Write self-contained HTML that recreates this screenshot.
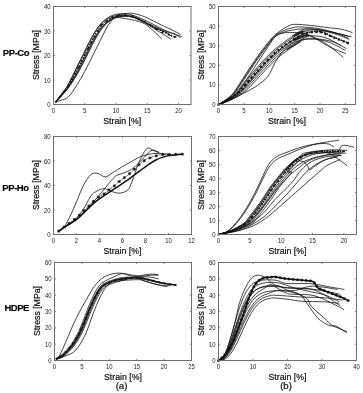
<!DOCTYPE html>
<html><head><meta charset="utf-8"><style>
html,body{margin:0;padding:0;background:#fff;}
body{width:363px;height:393px;overflow:hidden;}
svg{display:block;filter:blur(0.22px);}
.tk{font-family:"Liberation Sans", sans-serif;font-size:7px;fill:#222;}
.al{font-family:"Liberation Sans", sans-serif;font-size:9.6px;fill:#111;stroke:#111;stroke-width:0.22px;}
.rl{font-family:"Liberation Sans", sans-serif;font-size:9.5px;font-weight:bold;fill:#000;letter-spacing:-0.45px;stroke:#000;stroke-width:0.15px;}
</style></head><body>
<svg width="363" height="393" viewBox="0 0 363 393">
<rect width="363" height="393" fill="#fff"/>
<text x="16" y="56.4" class="rl" text-anchor="middle">PP-Co</text>
<text x="15.5" y="190.7" class="rl" text-anchor="middle">PP-Ho</text>
<text x="16.7" y="310.7" class="rl" text-anchor="middle">HDPE</text>
<text x="121.5" y="388.5" class="al" text-anchor="middle">(a)</text>
<text x="286" y="388.5" class="al" text-anchor="middle">(b)</text>
<path d="M55.70 101.72C56.55 100.63 59.04 97.48 60.80 95.16C62.56 92.85 64.44 90.74 66.25 87.84C68.06 84.95 69.88 81.31 71.65 77.80C73.42 74.28 75.02 70.53 76.88 66.77C78.73 63.01 80.82 59.13 82.75 55.25C84.68 51.38 86.49 47.25 88.44 43.49C90.39 39.74 92.50 35.82 94.44 32.72C96.38 29.61 97.99 27.16 100.06 24.88C102.14 22.59 104.45 20.51 106.88 19.00C109.30 17.48 111.74 16.46 114.62 15.81C117.51 15.16 120.99 14.83 124.19 15.08C127.39 15.32 130.65 16.18 133.81 17.28C136.98 18.38 139.85 20.02 143.19 21.69C146.52 23.36 150.01 25.69 153.81 27.33C157.61 28.96 162.41 30.31 166.00 31.49C169.59 32.67 172.98 33.37 175.38 34.43C177.77 35.49 179.54 37.29 180.38 37.86" stroke="#111" stroke-width="0.8" fill="none" />
<path d="M55.88 101.83C56.80 100.78 59.51 97.75 61.42 95.53C63.33 93.30 65.35 91.28 67.35 88.49C69.35 85.70 71.41 82.23 73.41 78.79C75.42 75.35 77.40 71.59 79.38 67.87C81.35 64.16 83.32 60.32 85.25 56.48C87.18 52.63 88.99 48.55 90.94 44.83C92.89 41.11 95.00 37.23 96.94 34.16C98.88 31.09 100.49 28.66 102.56 26.40C104.64 24.14 106.95 22.07 109.38 20.58C111.80 19.08 111.85 17.16 117.12 17.42C122.40 17.69 135.30 20.24 141.00 22.18C146.70 24.12 147.88 26.26 151.31 29.04C154.75 31.82 159.91 37.21 161.62 38.84" stroke="#111" stroke-width="0.8" fill="none" />
<path d="M55.95 101.81C56.90 100.74 59.68 97.68 61.65 95.44C63.62 93.19 65.69 91.15 67.76 88.33C69.83 85.51 71.98 82.00 74.08 78.53C76.17 75.06 78.29 71.26 80.31 67.50C82.33 63.75 84.26 59.87 86.19 55.99C88.11 52.11 89.93 47.99 91.88 44.23C93.82 40.47 95.94 36.55 97.88 33.45C99.81 30.35 101.43 27.90 103.50 25.61C105.57 23.32 107.89 21.24 110.31 19.73C112.74 18.22 115.18 17.20 118.06 16.55C120.95 15.89 124.43 15.56 127.63 15.81C130.82 16.05 132.73 15.81 137.25 18.02C141.77 20.22 150.48 26.39 154.75 29.04C159.02 31.69 160.17 32.22 162.88 33.94C165.58 35.66 169.65 38.43 171.00 39.33" stroke="#111" stroke-width="0.8" fill="none" />
<path d="M55.77 101.64C56.64 100.52 59.22 97.27 61.03 94.89C62.85 92.51 64.78 90.33 66.66 87.36C68.54 84.39 70.45 80.62 72.31 77.05C74.17 73.47 75.92 69.70 77.81 65.91C79.71 62.12 81.76 58.20 83.69 54.28C85.61 50.36 87.43 46.20 89.38 42.40C91.32 38.61 93.44 34.65 95.38 31.51C97.31 28.38 98.93 25.91 101.00 23.60C103.07 21.29 105.39 19.18 107.81 17.66C110.24 16.13 112.68 15.10 115.56 14.44C118.45 13.78 121.93 13.45 125.13 13.70C128.32 13.95 131.06 14.67 134.75 15.93C138.44 17.18 143.08 19.22 147.25 21.20C151.42 23.18 156.10 26.02 159.75 27.81C163.40 29.61 165.38 30.47 169.12 31.98C172.88 33.49 180.06 36.06 182.25 36.88" stroke="#111" stroke-width="0.8" fill="none" />
<path d="M56.00 101.82C56.96 100.76 59.80 97.71 61.80 95.48C63.81 93.25 65.92 91.21 68.04 88.41C70.16 85.61 72.37 82.11 74.52 78.66C76.67 75.21 78.89 71.43 80.94 67.69C82.99 63.95 84.89 60.09 86.81 56.23C88.74 52.37 90.55 48.27 92.50 44.53C94.45 40.79 96.56 36.89 98.50 33.81C100.44 30.72 102.05 28.28 104.12 26.00C106.20 23.73 108.51 21.66 110.94 20.15C113.36 18.65 115.80 17.63 118.69 16.98C121.57 16.33 125.05 16.01 128.25 16.25C131.45 16.50 134.71 17.35 137.88 18.45C141.04 19.54 142.56 20.54 147.25 22.84C151.94 25.13 161.83 29.84 166.00 32.22C170.17 34.61 171.21 36.31 172.25 37.12" stroke="#111" stroke-width="0.8" fill="none" />
<path d="M55.81 101.81C56.71 100.74 59.33 97.68 61.19 95.44C63.04 93.19 65.01 91.15 66.94 88.33C68.86 85.51 70.83 82.00 72.75 78.53C74.67 75.06 76.51 71.26 78.44 67.50C80.36 63.75 82.39 59.87 84.31 55.99C86.24 52.11 88.05 47.99 90.00 44.23C91.95 40.47 94.06 36.55 96.00 33.45C97.94 30.35 99.55 27.90 101.62 25.61C103.70 23.32 106.01 21.24 108.44 19.73C110.86 18.22 113.30 17.20 116.19 16.55C119.07 15.89 122.55 15.56 125.75 15.81C128.95 16.05 132.21 16.91 135.38 18.02C138.54 19.12 141.42 20.75 144.75 22.42C148.08 24.10 152.35 26.55 155.38 28.06C158.40 29.57 160.06 30.18 162.88 31.49C165.69 32.80 170.06 35.00 172.25 35.90C174.44 36.80 175.38 36.72 176.00 36.88" stroke="#111" stroke-width="1.3" fill="none" stroke-dasharray="2 1"/>
<path d="M55.00 101.81h2.00M56.00 100.81v2.00M55.30 101.11l1.40 1.40M55.30 102.51l1.40 -1.40M59.33 96.46h2.00M60.33 95.46v2.00M59.63 95.76l1.40 1.40M59.63 97.16l1.40 -1.40M63.67 91.12h2.00M64.67 90.12v2.00M63.97 90.42l1.40 1.40M63.97 91.82l1.40 -1.40M67.53 85.46h2.00M68.53 84.46v2.00M67.83 84.76l1.40 1.40M67.83 86.16l1.40 -1.40M70.87 79.45h2.00M71.87 78.45v2.00M71.17 78.75l1.40 1.40M71.17 80.15l1.40 -1.40M74.21 73.44h2.00M75.21 72.44v2.00M74.51 72.74l1.40 1.40M74.51 74.14l1.40 -1.40M77.54 67.42h2.00M78.54 66.42v2.00M77.84 66.72l1.40 1.40M77.84 68.12l1.40 -1.40M80.67 61.30h2.00M81.67 60.30v2.00M80.97 60.60l1.40 1.40M80.97 62.00l1.40 -1.40M83.79 55.17h2.00M84.79 54.17v2.00M84.09 54.47l1.40 1.40M84.09 55.87l1.40 -1.40M86.92 49.04h2.00M87.92 48.04v2.00M87.22 48.34l1.40 1.40M87.22 49.74l1.40 -1.40M90.10 42.94h2.00M91.10 41.94v2.00M90.40 42.24l1.40 1.40M90.40 43.64l1.40 -1.40M93.46 36.94h2.00M94.46 35.94v2.00M93.76 36.24l1.40 1.40M93.76 37.64l1.40 -1.40M96.82 30.94h2.00M97.82 29.94v2.00M97.12 30.24l1.40 1.40M97.12 31.64l1.40 -1.40M100.18 24.94h2.00M101.18 23.94v2.00M100.48 24.24l1.40 1.40M100.48 25.64l1.40 -1.40M105.67 20.96h2.00M106.67 19.96v2.00M105.97 20.26l1.40 1.40M105.97 21.66l1.40 -1.40M111.49 17.29h2.00M112.49 16.29v2.00M111.79 16.59l1.40 1.40M111.79 17.99l1.40 -1.40M117.72 14.97h2.00M118.72 13.97v2.00M118.02 14.27l1.40 1.40M118.02 15.67l1.40 -1.40M124.59 14.70h2.00M125.59 13.70v2.00M124.89 14.00l1.40 1.40M124.89 15.40l1.40 -1.40M131.12 16.22h2.00M132.12 15.22v2.00M131.42 15.52l1.40 1.40M131.42 16.92l1.40 -1.40M137.38 19.06h2.00M138.38 18.06v2.00M137.68 18.36l1.40 1.40M137.68 19.76l1.40 -1.40M143.65 21.89h2.00M144.65 20.89v2.00M143.95 21.19l1.40 1.40M143.95 22.59l1.40 -1.40M149.53 25.46h2.00M150.53 24.46v2.00M149.83 24.76l1.40 1.40M149.83 26.16l1.40 -1.40M155.40 29.04h2.00M156.40 28.04v2.00M155.70 28.34l1.40 1.40M155.70 29.74l1.40 -1.40M161.35 32.47h2.00M162.35 31.47v2.00M161.65 31.77l1.40 1.40M161.65 33.17l1.40 -1.40M167.86 34.67h2.00M168.86 33.67v2.00M168.16 33.97l1.40 1.40M168.16 35.37l1.40 -1.40M174.37 36.88h2.00M175.37 35.88v2.00M174.67 36.18l1.40 1.40M174.67 37.58l1.40 -1.40" stroke="#111" stroke-width="0.8" fill="none"/>
<path d="M55.81 101.81C57.04 101.44 60.97 100.54 63.19 99.60C65.41 98.66 66.83 98.62 69.12 96.17C71.42 93.72 74.33 89.02 76.94 84.90C79.54 80.78 82.15 76.24 84.75 71.42C87.35 66.61 89.96 61.18 92.56 55.99C95.17 50.80 97.72 45.54 100.38 40.31C103.03 35.08 105.90 28.55 108.50 24.63C111.10 20.71 113.29 18.59 116.00 16.79C118.71 14.99 122.04 14.42 124.75 13.85C127.46 13.28 128.92 12.87 132.25 13.36C135.58 13.85 139.85 14.83 144.75 16.79C149.65 18.75 157.04 22.92 161.62 25.12C166.21 27.33 169.12 28.47 172.25 30.02C175.38 31.57 179.02 33.69 180.38 34.43" stroke="#111" stroke-width="0.8" fill="none" />
<path d="M218.50 104.50C219.68 103.72 223.15 101.69 225.60 99.80C228.06 97.90 230.25 96.79 233.21 93.13C236.17 89.47 239.74 83.33 243.36 77.84C246.99 72.36 251.39 65.43 254.98 60.20C258.58 54.98 261.71 50.60 264.93 46.48C268.15 42.37 271.65 38.19 274.31 35.51C276.98 32.83 278.71 31.91 280.91 30.41C283.11 28.91 285.22 27.50 287.51 26.49C289.79 25.48 290.64 24.50 294.61 24.34C298.59 24.17 305.77 24.96 311.36 25.51C316.94 26.07 323.11 27.05 328.10 27.67C333.09 28.29 337.23 28.42 341.29 29.24C345.35 30.05 350.60 32.01 352.46 32.57" stroke="#111" stroke-width="0.8" fill="none" />
<path d="M218.50 104.50C219.77 103.72 223.57 101.66 226.11 99.80C228.65 97.93 230.76 96.89 233.72 93.33C236.68 89.77 240.23 83.85 243.87 78.43C247.51 73.01 251.90 66.05 255.54 60.79C259.18 55.53 262.48 51.02 265.69 46.88C268.90 42.73 271.86 38.58 274.82 35.90C277.78 33.22 280.57 32.14 283.45 30.80C286.32 29.46 289.20 28.52 292.07 27.86C294.95 27.21 296.05 26.72 300.70 26.88C305.35 27.05 314.06 27.80 319.98 28.84C325.90 29.89 331.48 31.59 336.22 33.16C340.95 34.72 346.37 37.40 348.40 38.25" stroke="#111" stroke-width="0.8" fill="none" />
<path d="M218.50 104.50C219.85 103.75 224.00 101.82 226.62 99.99C229.24 98.16 231.27 97.02 234.23 93.52C237.19 90.03 240.74 84.38 244.38 79.02C248.01 73.66 252.37 66.67 256.05 61.38C259.73 56.09 263.24 51.45 266.45 47.27C269.66 43.09 272.33 38.84 275.33 36.29C278.33 33.74 281.59 33.03 284.46 31.98C287.34 30.93 289.20 30.54 292.58 30.02C295.96 29.50 299.77 28.78 304.76 28.84C309.75 28.91 316.43 29.50 322.52 30.41C328.61 31.33 336.47 33.25 341.29 34.33C346.11 35.41 349.75 36.46 351.44 36.88" stroke="#111" stroke-width="0.8" fill="none" />
<path d="M218.50 104.50C220.02 103.75 224.67 101.76 227.63 99.99C230.59 98.23 233.13 97.28 236.26 93.92C239.39 90.55 242.94 84.90 246.41 79.80C249.87 74.71 253.43 68.89 257.06 63.34C260.70 57.79 265.10 50.99 268.23 46.48C271.35 41.98 273.13 38.58 275.84 36.29C278.54 34.01 280.83 33.35 284.46 32.76C288.10 32.18 293.43 32.34 297.66 32.76C301.88 33.19 304.67 33.03 309.83 35.31C314.99 37.60 322.60 43.45 328.61 46.48C334.61 49.52 342.98 52.36 345.86 53.54" stroke="#111" stroke-width="0.8" fill="none" />
<path d="M218.50 104.50C220.06 103.69 224.83 101.74 227.89 99.65C230.94 97.57 234.08 94.88 236.83 91.98C239.58 89.09 241.78 85.46 244.38 82.29C246.98 79.13 249.44 76.47 252.45 73.01C255.45 69.54 259.08 65.07 262.39 61.50C265.70 57.93 268.97 54.60 272.29 51.61C275.60 48.61 278.90 46.09 282.28 43.53C285.66 40.98 289.09 38.42 292.58 36.26C296.07 34.11 303.24 30.67 303.24 30.61C303.24 30.55 293.00 35.87 292.58 35.90C292.16 35.93 297.82 31.98 300.70 30.80C303.58 29.63 304.76 28.65 309.83 28.84C314.91 29.04 324.55 30.67 331.14 31.98C337.74 33.29 346.37 35.90 349.41 36.68" stroke="#111" stroke-width="0.8" fill="none" />
<path d="M218.50 104.50C220.29 103.73 225.61 101.87 229.26 99.89C232.90 97.91 237.09 95.34 240.37 92.59C243.65 89.84 246.17 86.38 248.94 83.37C251.72 80.36 254.01 77.83 257.01 74.54C260.01 71.24 263.65 66.98 266.96 63.59C270.26 60.19 273.54 57.02 276.85 54.18C280.17 51.33 283.47 48.92 286.85 46.49C290.23 44.06 293.66 41.63 297.15 39.58C300.64 37.53 308.56 34.03 307.80 34.20C307.04 34.37 293.51 40.48 292.58 40.60C291.65 40.72 298.75 35.48 302.22 34.92C305.69 34.36 309.16 35.64 313.39 37.27C317.61 38.91 322.60 41.36 327.59 44.72C332.58 48.08 340.70 55.34 343.32 57.46" stroke="#111" stroke-width="0.8" fill="none" />
<path d="M218.50 104.50C220.37 103.75 225.87 101.93 229.71 99.98C233.56 98.04 238.09 95.53 241.55 92.83C245.01 90.14 247.64 86.75 250.47 83.80C253.30 80.85 255.53 78.38 258.53 75.15C261.54 71.92 265.17 67.75 268.48 64.42C271.79 61.10 275.06 57.99 278.37 55.20C281.69 52.41 284.99 50.06 288.37 47.68C291.75 45.29 295.18 42.91 298.67 40.90C302.16 38.89 310.00 35.75 309.33 35.63C308.65 35.52 295.37 40.17 294.61 40.21C293.85 40.26 300.11 36.46 304.76 35.90C309.41 35.34 317.61 35.90 322.52 36.88C327.42 37.86 331.06 40.28 334.19 41.78C337.32 43.28 340.11 45.21 341.29 45.90" stroke="#111" stroke-width="0.8" fill="none" />
<path d="M218.50 104.50C220.13 103.70 225.05 101.77 228.27 99.70C231.49 97.64 234.92 94.97 237.81 92.10C240.71 89.24 243.00 85.64 245.65 82.51C248.30 79.38 250.71 76.74 253.71 73.31C256.72 69.88 260.35 65.45 263.66 61.92C266.97 58.39 270.24 55.09 273.55 52.12C276.87 49.16 280.17 46.66 283.55 44.12C286.93 41.59 290.36 39.06 293.85 36.93C297.34 34.79 304.55 31.34 304.51 31.33C304.46 31.32 293.89 36.84 293.60 36.88C293.30 36.92 298.75 32.73 302.73 31.59C306.70 30.44 312.03 29.63 317.44 30.02C322.86 30.41 329.88 32.37 335.20 33.94C340.53 35.51 347.04 38.51 349.41 39.43" stroke="#111" stroke-width="0.8" fill="none" />
<path d="M218.50 104.50C220.47 103.76 226.22 101.96 230.32 100.03C234.43 98.11 239.43 95.62 243.12 92.96C246.82 90.29 249.59 86.94 252.50 84.02C255.40 81.10 257.56 78.65 260.56 75.45C263.57 72.26 267.20 68.13 270.51 64.84C273.82 61.55 277.09 58.48 280.40 55.72C283.72 52.95 287.02 50.63 290.40 48.27C293.78 45.91 301.27 41.34 300.70 41.56C300.13 41.79 287.59 49.42 287.00 49.62C286.41 49.82 293.77 44.59 297.15 42.76C300.53 40.93 303.91 39.30 307.30 38.64C310.68 37.99 313.22 38.32 317.44 38.84C321.67 39.36 327.85 40.15 332.67 41.78C337.49 43.41 344.08 47.50 346.37 48.64" stroke="#111" stroke-width="0.8" fill="none" />
<path d="M218.50 104.50C220.23 103.72 225.40 101.82 228.88 99.80C232.36 97.77 236.25 95.16 239.39 92.35C242.52 89.54 244.95 86.01 247.68 82.94C250.40 79.87 252.74 77.29 255.74 73.92C258.75 70.56 262.38 66.21 265.69 62.75C269.00 59.29 272.27 56.06 275.58 53.15C278.90 50.24 282.20 47.79 285.58 45.31C288.96 42.83 292.39 40.34 295.88 38.25C299.37 36.16 302.39 33.84 306.54 32.76C310.68 31.69 316.09 31.00 320.74 31.78C325.39 32.57 329.79 35.57 334.44 37.47C339.09 39.36 346.28 42.20 348.65 43.15" stroke="#111" stroke-width="1.5" fill="none" stroke-dasharray="1.8 0.8"/>
<path d="M217.20 104.50h2.60M218.50 103.20v2.60M217.59 103.59l1.82 1.82M217.59 105.41l1.82 -1.82M221.56 102.48h2.60M222.86 101.18v2.60M221.95 101.57l1.82 1.82M221.95 103.39l1.82 -1.82M225.92 100.46h2.60M227.22 99.16v2.60M226.31 99.55l1.82 1.82M226.31 101.37l1.82 -1.82M229.95 97.88h2.60M231.25 96.58v2.60M230.34 96.97l1.82 1.82M230.34 98.79l1.82 -1.82M233.83 95.04h2.60M235.13 93.74v2.60M234.22 94.13l1.82 1.82M234.22 95.95l1.82 -1.82M237.66 92.15h2.60M238.96 90.85v2.60M238.05 91.24l1.82 1.82M238.05 93.06l1.82 -1.82M240.80 88.52h2.60M242.10 87.22v2.60M241.19 87.61l1.82 1.82M241.19 89.43l1.82 -1.82M243.94 84.88h2.60M245.24 83.58v2.60M244.33 83.97l1.82 1.82M244.33 85.79l1.82 -1.82M247.11 81.27h2.60M248.41 79.97v2.60M247.50 80.36l1.82 1.82M247.50 82.18l1.82 -1.82M250.32 77.68h2.60M251.62 76.38v2.60M250.71 76.77l1.82 1.82M250.71 78.59l1.82 -1.82M253.52 74.10h2.60M254.82 72.80v2.60M253.91 73.19l1.82 1.82M253.91 75.01l1.82 -1.82M256.72 70.51h2.60M258.02 69.21v2.60M257.11 69.60l1.82 1.82M257.11 71.42l1.82 -1.82M259.91 66.92h2.60M261.21 65.62v2.60M260.30 66.01l1.82 1.82M260.30 67.83l1.82 -1.82M263.11 63.33h2.60M264.41 62.03v2.60M263.50 62.42l1.82 1.82M263.50 64.24l1.82 -1.82M266.52 59.95h2.60M267.82 58.65v2.60M266.91 59.04l1.82 1.82M266.91 60.86l1.82 -1.82M269.97 56.60h2.60M271.27 55.30v2.60M270.36 55.69l1.82 1.82M270.36 57.51l1.82 -1.82M273.41 53.25h2.60M274.71 51.95v2.60M273.80 52.34l1.82 1.82M273.80 54.16l1.82 -1.82M277.19 50.27h2.60M278.49 48.97v2.60M277.58 49.36l1.82 1.82M277.58 51.18l1.82 -1.82M280.97 47.31h2.60M282.27 46.01v2.60M281.36 46.40l1.82 1.82M281.36 48.22l1.82 -1.82M284.81 44.42h2.60M286.11 43.12v2.60M285.20 43.51l1.82 1.82M285.20 45.33l1.82 -1.82M288.77 41.71h2.60M290.07 40.41v2.60M289.16 40.80l1.82 1.82M289.16 42.62l1.82 -1.82M292.74 38.99h2.60M294.04 37.69v2.60M293.13 38.08l1.82 1.82M293.13 39.90l1.82 -1.82M296.93 36.65h2.60M298.23 35.35v2.60M297.32 35.74l1.82 1.82M297.32 37.56l1.82 -1.82M301.20 34.45h2.60M302.50 33.15v2.60M301.59 33.54l1.82 1.82M301.59 35.36l1.82 -1.82M305.59 32.69h2.60M306.89 31.39v2.60M305.98 31.78l1.82 1.82M305.98 33.60l1.82 -1.82M310.39 32.36h2.60M311.69 31.06v2.60M310.78 31.45l1.82 1.82M310.78 33.27l1.82 -1.82M315.18 32.03h2.60M316.48 30.73v2.60M315.57 31.12l1.82 1.82M315.57 32.94l1.82 -1.82M319.88 32.28h2.60M321.18 30.98v2.60M320.27 31.37l1.82 1.82M320.27 33.19l1.82 -1.82M324.32 34.12h2.60M325.62 32.82v2.60M324.71 33.21l1.82 1.82M324.71 35.03l1.82 -1.82M328.76 35.97h2.60M330.06 34.67v2.60M329.15 35.06l1.82 1.82M329.15 36.88l1.82 -1.82M333.20 37.80h2.60M334.50 36.50v2.60M333.59 36.89l1.82 1.82M333.59 38.71l1.82 -1.82M337.66 39.58h2.60M338.96 38.28v2.60M338.05 38.67l1.82 1.82M338.05 40.49l1.82 -1.82M342.13 41.37h2.60M343.43 40.07v2.60M342.52 40.46l1.82 1.82M342.52 42.28l1.82 -1.82M346.59 43.15h2.60M347.89 41.85v2.60M346.98 42.24l1.82 1.82M346.98 44.06l1.82 -1.82" stroke="#111" stroke-width="0.85" fill="none"/>
<path d="M218.50 104.50C220.61 103.72 226.96 101.69 231.19 99.80C235.41 97.90 239.90 95.26 243.87 93.13C247.85 91.01 251.52 89.31 255.03 87.06C258.54 84.80 262.39 82.03 264.93 79.61C267.46 77.19 268.61 75.30 270.26 72.55C271.90 69.81 272.96 66.38 274.82 63.14C276.68 59.91 279.22 55.89 281.42 53.15C283.62 50.40 285.82 48.51 288.01 46.68C290.21 44.85 292.24 43.32 294.61 42.17C296.98 41.03 299.69 40.31 302.22 39.82C304.76 39.33 306.87 39.23 309.83 39.23C312.79 39.23 316.18 39.07 319.98 39.82C323.79 40.57 328.44 41.94 332.67 43.74C336.90 45.54 343.24 49.46 345.35 50.60" stroke="#111" stroke-width="0.8" fill="none" />
<path d="M58.67 231.07C59.98 230.23 63.52 227.95 66.50 226.05C69.47 224.15 73.17 222.31 76.50 219.68C79.83 217.04 83.15 213.37 86.50 210.25C89.86 207.12 93.50 203.51 96.62 200.94C99.75 198.36 101.90 197.06 105.25 194.81C108.60 192.56 113.30 189.73 116.75 187.46C120.20 185.19 123.17 183.17 125.95 181.21C128.73 179.25 130.93 177.56 133.43 175.70C135.92 173.84 138.70 171.70 140.90 170.06C143.10 168.43 144.16 167.57 146.65 165.90C149.14 164.23 152.98 161.53 155.85 160.02C158.73 158.51 161.60 157.59 163.90 156.84C166.20 156.08 167.54 155.86 169.65 155.49C171.76 155.12 174.42 154.83 176.55 154.63C178.68 154.43 181.44 154.32 182.41 154.26" stroke="#111" stroke-width="1.5" fill="none" />
<path d="M58.67 231.07C59.98 230.09 63.52 227.37 66.50 225.19C69.47 223.01 73.17 220.80 76.50 217.96C79.83 215.12 83.15 211.43 86.50 208.16C89.86 204.90 93.69 200.75 96.62 198.36C99.56 195.97 101.91 195.32 104.10 193.83C106.28 192.34 107.97 190.79 109.73 189.42C111.50 188.05 112.82 187.19 114.68 185.62C116.54 184.05 118.92 181.54 120.89 179.99C122.86 178.44 124.65 177.74 126.52 176.31C128.40 174.88 130.38 173.07 132.16 171.41C133.94 169.76 135.65 167.86 137.22 166.39C138.79 164.92 140.06 163.80 141.59 162.59C143.12 161.39 144.18 160.24 146.42 159.16C148.66 158.08 152.40 156.86 155.05 156.10C157.69 155.34 157.75 154.94 162.29 154.63C166.83 154.32 178.96 154.32 182.30 154.26" stroke="#111" stroke-width="0.8" fill="none" stroke-dasharray="1.5 1"/>
<path d="M57.17 231.07h3.00M58.67 229.57v3.00M57.62 230.02l2.10 2.10M57.62 232.12l2.10 -2.10M62.40 227.14h3.00M63.90 225.64v3.00M62.85 226.09l2.10 2.10M62.85 228.19l2.10 -2.10M67.66 223.26h3.00M69.16 221.76v3.00M68.11 222.21l2.10 2.10M68.11 224.31l2.10 -2.10M72.96 219.44h3.00M74.46 217.94v3.00M73.41 218.39l2.10 2.10M73.41 220.49l2.10 -2.10M77.87 215.15h3.00M79.37 213.65v3.00M78.32 214.10l2.10 2.10M78.32 216.20l2.10 -2.10M82.54 210.58h3.00M84.04 209.08v3.00M82.99 209.53l2.10 2.10M82.99 211.63l2.10 -2.10M87.22 206.02h3.00M88.72 204.52v3.00M87.67 204.97l2.10 2.10M87.67 207.07l2.10 -2.10M91.92 201.47h3.00M93.42 199.97v3.00M92.37 200.42l2.10 2.10M92.37 202.52l2.10 -2.10M96.90 197.29h3.00M98.40 195.79v3.00M97.35 196.24l2.10 2.10M97.35 198.34l2.10 -2.10M102.48 193.90h3.00M103.98 192.40v3.00M102.93 192.85l2.10 2.10M102.93 194.95l2.10 -2.10M107.64 189.88h3.00M109.14 188.38v3.00M108.09 188.83l2.10 2.10M108.09 190.93l2.10 -2.10M112.82 185.90h3.00M114.32 184.40v3.00M113.27 184.85l2.10 2.10M113.27 186.95l2.10 -2.10M117.69 181.53h3.00M119.19 180.03v3.00M118.14 180.48l2.10 2.10M118.14 182.58l2.10 -2.10M122.94 177.67h3.00M124.44 176.17v3.00M123.39 176.62l2.10 2.10M123.39 178.72l2.10 -2.10M128.08 173.66h3.00M129.58 172.16v3.00M128.53 172.61l2.10 2.10M128.53 174.71l2.10 -2.10M132.87 169.22h3.00M134.37 167.72v3.00M133.32 168.17l2.10 2.10M133.32 170.27l2.10 -2.10M137.62 164.74h3.00M139.12 163.24v3.00M138.07 163.69l2.10 2.10M138.07 165.79l2.10 -2.10M142.75 160.70h3.00M144.25 159.20v3.00M143.20 159.65l2.10 2.10M143.20 161.75l2.10 -2.10M148.57 157.87h3.00M150.07 156.37v3.00M149.02 156.82l2.10 2.10M149.02 158.92l2.10 -2.10M154.78 155.85h3.00M156.28 154.35v3.00M155.23 154.80l2.10 2.10M155.23 156.90l2.10 -2.10M161.19 154.62h3.00M162.69 153.12v3.00M161.64 153.57l2.10 2.10M161.64 155.67l2.10 -2.10M167.73 154.50h3.00M169.23 153.00v3.00M168.18 153.45l2.10 2.10M168.18 155.55l2.10 -2.10M174.26 154.38h3.00M175.76 152.88v3.00M174.71 153.33l2.10 2.10M174.71 155.43l2.10 -2.10M180.80 154.26h3.00M182.30 152.76v3.00M181.25 153.21l2.10 2.10M181.25 155.31l2.10 -2.10" stroke="#111" stroke-width="0.9" fill="none"/>
<path d="M58.67 231.07C59.35 230.72 61.40 230.31 62.70 228.99C64.00 227.66 65.15 225.46 66.50 223.11C67.84 220.76 69.08 218.45 70.75 214.90C72.42 211.35 74.68 206.08 76.50 201.79C78.32 197.51 80.01 192.77 81.67 189.18C83.34 185.58 84.80 182.78 86.50 180.23C88.21 177.68 89.94 174.99 91.91 173.86C93.88 172.74 96.11 172.98 98.35 173.50C100.59 174.01 102.95 177.07 105.37 176.93C107.78 176.78 109.93 174.39 112.84 172.64C115.75 170.88 119.32 168.47 122.84 166.39C126.37 164.31 131.03 161.78 134.00 160.14C136.97 158.51 137.80 157.63 140.67 156.59C143.55 155.55 148.15 154.43 151.25 153.90C154.35 153.36 156.43 153.36 159.30 153.41C162.18 153.45 166.97 154.02 168.50 154.14" stroke="#111" stroke-width="0.8" fill="none" />
<path d="M58.67 231.07C61.65 229.09 71.86 222.80 76.50 219.19C81.14 215.57 83.15 212.86 86.50 209.39C89.86 205.92 93.27 202.22 96.62 198.36C99.98 194.50 103.51 189.91 106.63 186.24C109.75 182.56 112.67 178.48 115.37 176.31C118.07 174.15 120.14 174.39 122.84 173.25C125.55 172.11 129.09 171.02 131.58 169.45C134.08 167.88 135.67 165.84 137.80 163.82C139.92 161.80 141.95 159.61 144.35 157.32C146.75 155.04 149.68 150.79 152.17 150.10C154.66 149.40 158.11 152.65 159.30 153.16" stroke="#111" stroke-width="0.8" fill="none" />
<path d="M58.67 231.07C60.69 229.70 67.07 225.84 70.75 222.86C74.43 219.88 77.40 217.66 80.75 213.19C84.11 208.71 88.33 199.63 90.88 196.03C93.42 192.44 94.48 192.73 96.05 191.62C97.62 190.52 98.75 189.89 100.31 189.42C101.86 188.95 103.28 188.40 105.37 188.81C107.45 189.22 110.37 191.16 112.84 191.87C115.31 192.58 117.71 193.40 120.20 193.09C122.69 192.79 125.89 191.79 127.79 190.03C129.69 188.28 130.34 185.46 131.58 182.56C132.83 179.66 134.23 175.54 135.26 172.64C136.30 169.74 136.47 168.33 137.80 165.16C139.12 162.00 141.53 156.51 143.20 153.65C144.87 150.79 146.08 148.53 147.80 148.02C149.53 147.50 151.63 149.87 153.55 150.59C155.47 151.30 158.34 152.02 159.30 152.30" stroke="#111" stroke-width="0.8" fill="none" />
<path d="M218.50 234.50C220.07 233.92 224.77 233.22 227.91 231.00C231.05 228.78 234.50 224.58 237.32 221.20C240.14 217.82 242.23 214.78 244.85 210.70C247.46 206.62 250.28 201.83 253.00 196.70C255.72 191.57 258.57 185.27 261.15 179.90C263.74 174.53 265.98 168.33 268.49 164.50C271.00 160.67 273.46 158.85 276.21 156.94C278.96 155.03 282.06 154.23 284.99 153.02C287.92 151.81 290.74 150.73 293.77 149.66C296.80 148.59 300.05 147.44 303.18 146.58C306.32 145.72 308.83 145.23 312.59 144.48C316.35 143.73 321.37 142.82 325.76 142.10C330.15 141.38 336.74 140.47 338.94 140.14" stroke="#111" stroke-width="0.8" fill="none" />
<path d="M218.50 234.50C220.17 233.89 225.19 233.15 228.54 230.86C231.88 228.57 235.54 224.37 238.57 220.78C241.60 217.19 244.01 213.55 246.73 209.30C249.45 205.05 252.16 200.43 254.88 195.30C257.60 190.17 260.53 183.40 263.04 178.50C265.55 173.60 267.53 169.17 269.94 165.90C272.34 162.63 274.75 160.72 277.46 158.90C280.18 157.08 283.32 156.26 286.25 154.98C289.17 153.70 292.10 152.41 295.03 151.20C297.95 149.99 300.88 148.75 303.81 147.70C306.74 146.65 309.66 145.60 312.59 144.90C315.52 144.20 318.65 143.64 321.37 143.50C324.09 143.36 326.81 143.48 328.90 144.06C330.99 144.64 333.08 146.51 333.92 147.00" stroke="#111" stroke-width="0.8" fill="none" />
<path d="M218.50 234.50C220.80 233.85 227.60 232.45 232.30 230.58C237.00 228.71 243.28 225.73 246.73 223.30C250.18 220.87 250.91 218.59 253.00 216.02C255.09 213.45 257.08 210.89 259.27 207.90C261.47 204.91 263.66 201.79 266.17 198.10C268.68 194.41 270.94 190.35 274.33 185.78C277.71 181.21 282.63 175.02 286.50 170.66C290.36 166.30 294.02 162.35 297.54 159.60C301.05 156.85 303.91 155.49 307.57 154.14C311.23 152.79 315.46 151.97 319.49 151.48C323.53 150.99 327.71 151.22 331.79 151.20C335.86 151.18 341.93 151.32 343.95 151.34" stroke="#111" stroke-width="1.4" fill="none" stroke-dasharray="1.8 0.8"/>
<path d="M217.50 234.50h2.00M218.50 233.50v2.00M217.80 233.80l1.40 1.40M217.80 235.20l1.40 -1.40M222.82 232.99h2.00M223.82 231.99v2.00M223.12 232.29l1.40 1.40M223.12 233.69l1.40 -1.40M228.13 231.48h2.00M229.13 230.48v2.00M228.43 230.78l1.40 1.40M228.43 232.18l1.40 -1.40M233.29 229.57h2.00M234.29 228.57v2.00M233.59 228.87l1.40 1.40M233.59 230.27l1.40 -1.40M238.23 227.08h2.00M239.23 226.08v2.00M238.53 226.38l1.40 1.40M238.53 227.78l1.40 -1.40M243.16 224.59h2.00M244.16 223.59v2.00M243.46 223.89l1.40 1.40M243.46 225.29l1.40 -1.40M247.46 221.29h2.00M248.46 220.29v2.00M247.76 220.59l1.40 1.40M247.76 221.99l1.40 -1.40M251.07 217.10h2.00M252.07 216.10v2.00M251.37 216.40l1.40 1.40M251.37 217.80l1.40 -1.40M254.51 212.78h2.00M255.51 211.78v2.00M254.81 212.08l1.40 1.40M254.81 213.48l1.40 -1.40M257.88 208.40h2.00M258.88 207.40v2.00M258.18 207.70l1.40 1.40M258.18 209.10l1.40 -1.40M261.09 203.90h2.00M262.09 202.90v2.00M261.39 203.20l1.40 1.40M261.39 204.60l1.40 -1.40M264.27 199.38h2.00M265.27 198.38v2.00M264.57 198.68l1.40 1.40M264.57 200.08l1.40 -1.40M267.36 194.80h2.00M268.36 193.80v2.00M267.66 194.10l1.40 1.40M267.66 195.50l1.40 -1.40M270.41 190.19h2.00M271.41 189.19v2.00M270.71 189.49l1.40 1.40M270.71 190.89l1.40 -1.40M273.48 185.59h2.00M274.48 184.59v2.00M273.78 184.89l1.40 1.40M273.78 186.29l1.40 -1.40M276.94 181.29h2.00M277.94 180.29v2.00M277.24 180.59l1.40 1.40M277.24 181.99l1.40 -1.40M280.41 176.98h2.00M281.41 175.98v2.00M280.71 176.28l1.40 1.40M280.71 177.68l1.40 -1.40M283.87 172.68h2.00M284.87 171.68v2.00M284.17 171.98l1.40 1.40M284.17 173.38l1.40 -1.40M287.57 168.58h2.00M288.57 167.58v2.00M287.87 167.88l1.40 1.40M287.87 169.28l1.40 -1.40M291.48 164.67h2.00M292.48 163.67v2.00M291.78 163.97l1.40 1.40M291.78 165.37l1.40 -1.40M295.38 160.76h2.00M296.38 159.76v2.00M295.68 160.06l1.40 1.40M295.68 161.46l1.40 -1.40M299.95 157.74h2.00M300.95 156.74v2.00M300.25 157.04l1.40 1.40M300.25 158.44l1.40 -1.40M304.81 155.10h2.00M305.81 154.10v2.00M305.11 154.40l1.40 1.40M305.11 155.80l1.40 -1.40M310.01 153.37h2.00M311.01 152.37v2.00M310.31 152.67l1.40 1.40M310.31 154.07l1.40 -1.40M315.40 152.17h2.00M316.40 151.17v2.00M315.70 151.47l1.40 1.40M315.70 152.87l1.40 -1.40M320.85 151.43h2.00M321.85 150.43v2.00M321.15 150.73l1.40 1.40M321.15 152.13l1.40 -1.40M326.38 151.30h2.00M327.38 150.30v2.00M326.68 150.60l1.40 1.40M326.68 152.00l1.40 -1.40M331.90 151.21h2.00M332.90 150.21v2.00M332.20 150.51l1.40 1.40M332.20 151.91l1.40 -1.40M337.43 151.28h2.00M338.43 150.28v2.00M337.73 150.58l1.40 1.40M337.73 151.98l1.40 -1.40M342.95 151.34h2.00M343.95 150.34v2.00M343.25 150.64l1.40 1.40M343.25 152.04l1.40 -1.40" stroke="#111" stroke-width="0.75" fill="none"/>
<path d="M218.50 234.50C220.63 233.85 226.94 232.45 231.28 230.58C235.61 228.71 241.28 225.73 244.53 223.30C247.79 220.87 248.71 218.59 250.80 216.02C252.90 213.45 254.88 210.89 257.08 207.90C259.27 204.91 261.47 201.79 263.98 198.10C266.49 194.41 268.74 190.35 272.13 185.78C275.52 181.21 280.43 175.02 284.30 170.66C288.17 166.30 293.14 161.68 295.34 159.60C297.55 157.52 295.71 159.37 297.54 158.20C299.37 157.03 301.61 153.56 306.32 152.60C311.02 151.64 320.85 151.64 325.76 152.46C330.68 153.28 332.25 155.31 335.80 157.50C339.35 159.69 345.21 164.27 347.09 165.62" stroke="#111" stroke-width="0.8" fill="none" />
<path d="M218.50 234.50C220.95 233.85 228.16 232.47 233.18 230.62C238.20 228.77 244.99 225.81 248.61 223.41C252.23 221.01 252.79 218.75 254.88 216.20C256.97 213.66 258.96 211.12 261.15 208.17C263.35 205.21 265.55 202.11 268.05 198.46C270.56 194.81 272.82 190.79 276.21 186.27C279.60 181.74 284.51 175.62 288.38 171.30C292.25 166.98 297.68 162.07 299.42 160.35C301.15 158.63 298.11 160.80 298.79 161.00C299.47 161.20 302.03 160.79 303.50 161.56C304.96 162.33 306.58 164.24 307.57 165.62C308.57 167.00 308.10 169.82 309.45 169.82C310.81 169.82 313.01 167.32 315.73 165.62C318.45 163.92 322.42 161.14 325.76 159.60C329.11 158.06 333.19 157.08 335.80 156.38C338.41 155.68 340.50 155.56 341.45 155.40" stroke="#111" stroke-width="0.8" fill="none" />
<path d="M218.50 234.50C220.56 233.85 226.65 232.45 230.84 230.58C235.02 228.71 240.42 225.73 243.59 223.30C246.76 220.87 247.77 218.59 249.86 216.02C251.95 213.45 253.94 210.89 256.14 207.90C258.33 204.91 260.53 201.79 263.04 198.10C265.55 194.41 267.80 190.35 271.19 185.78C274.58 181.21 281.16 173.39 283.36 170.66C285.56 167.93 282.31 171.24 284.36 169.40C286.41 167.56 291.47 162.17 295.65 159.60C299.84 157.03 304.54 155.17 309.45 154.00C314.37 152.83 320.43 153.04 325.14 152.60C329.84 152.16 334.75 152.55 337.68 151.34C340.61 150.13 339.98 146.00 342.70 145.32C345.42 144.64 352.11 146.95 353.99 147.28" stroke="#111" stroke-width="0.8" fill="none" />
<path d="M218.50 234.50C221.04 233.86 228.54 232.49 233.76 230.66C238.99 228.83 246.13 225.90 249.86 223.52C253.59 221.15 254.05 218.90 256.14 216.39C258.23 213.87 260.21 211.36 262.41 208.43C264.60 205.51 266.80 202.44 269.31 198.83C271.82 195.22 274.08 191.24 277.46 186.75C280.85 182.27 287.96 174.48 289.63 171.94C291.31 169.39 285.97 173.32 287.50 171.50C289.03 169.68 294.61 163.80 298.79 161.00C302.97 158.20 307.68 156.10 312.59 154.70C317.50 153.30 322.73 152.83 328.27 152.60C333.81 152.37 342.91 153.18 345.84 153.30" stroke="#111" stroke-width="0.8" fill="none" />
<path d="M218.50 234.50C220.70 233.84 227.22 232.43 231.71 230.54C236.21 228.66 242.13 225.64 245.47 223.19C248.81 220.74 249.65 218.43 251.75 215.84C253.84 213.24 255.82 210.65 258.02 207.63C260.21 204.62 262.41 201.46 264.92 197.74C267.43 194.01 269.69 189.91 273.07 185.29C276.46 180.67 281.37 174.43 285.24 170.02C289.11 165.61 296.11 158.84 296.28 158.85C296.45 158.86 286.14 170.09 286.25 170.10C286.35 170.11 293.04 161.82 296.91 158.90C300.78 155.98 305.27 154.00 309.45 152.60C313.64 151.20 317.82 150.97 322.00 150.50C326.18 150.03 330.36 149.80 334.55 149.80C338.73 149.80 345.00 150.38 347.09 150.50" stroke="#111" stroke-width="0.8" fill="none" />
<path d="M218.50 234.50C221.19 233.87 229.10 232.51 234.64 230.70C240.18 228.89 247.85 225.99 251.75 223.64C255.64 221.28 255.93 219.06 258.02 216.57C260.11 214.08 262.10 211.60 264.29 208.70C266.49 205.80 268.68 202.77 271.19 199.19C273.70 195.62 275.96 191.68 279.35 187.24C282.73 182.81 289.95 174.97 291.51 172.58C293.08 170.18 287.33 174.36 288.75 172.90C290.18 171.44 296.07 166.25 300.05 163.80C304.02 161.35 307.89 159.72 312.59 158.20C317.30 156.68 323.25 155.63 328.27 154.70C333.29 153.77 340.30 152.95 342.70 152.60" stroke="#111" stroke-width="0.8" fill="none" />
<path d="M218.50 234.50C221.11 233.80 229.16 232.40 234.18 230.30C239.20 228.20 244.32 225.17 248.61 221.90C252.90 218.63 255.51 215.79 259.90 210.70C264.29 205.61 270.35 196.98 274.95 191.38C279.55 185.78 283.63 180.95 287.50 177.10C291.37 173.25 294.50 171.08 298.16 168.28C301.82 165.48 304.96 162.45 309.45 160.30C313.95 158.15 319.91 156.45 325.14 155.40C330.36 154.35 338.20 154.23 340.82 154.00" stroke="#111" stroke-width="0.8" fill="none" />
<path d="M218.50 234.50C221.43 233.80 230.63 232.28 236.06 230.30C241.50 228.32 246.52 225.52 251.12 222.60C255.72 219.68 259.69 216.65 263.66 212.80C267.64 208.95 270.35 204.42 274.95 199.50C279.55 194.58 286.87 188.18 291.26 183.26C295.65 178.34 297.95 173.55 301.30 169.96C304.65 166.37 307.26 163.89 311.34 161.70C315.41 159.51 320.75 157.85 325.76 156.80C330.78 155.75 338.83 155.63 341.45 155.40" stroke="#111" stroke-width="0.8" fill="none" />
<path d="M218.50 234.50C221.64 233.92 231.44 232.49 237.32 231.00C243.19 229.51 249.05 227.64 253.75 225.54C258.46 223.44 262.01 220.87 265.55 218.40C269.08 215.93 270.67 214.36 274.95 210.70C279.24 207.04 285.72 201.30 291.26 196.42C296.80 191.54 303.18 185.85 308.20 181.44C313.22 177.03 318.13 172.69 321.37 169.96C324.61 167.23 324.51 166.81 327.65 165.06C330.78 163.31 338.10 160.39 340.19 159.46" stroke="#111" stroke-width="0.8" fill="none" />
<path d="M218.50 234.50C221.85 233.80 232.82 232.05 238.57 230.30C244.32 228.55 248.50 226.45 253.00 224.00C257.50 221.55 261.68 218.75 265.55 215.60C269.41 212.45 272.65 208.67 276.21 205.10C279.76 201.53 283.42 197.91 286.87 194.18C290.32 190.45 293.35 186.71 296.91 182.70C300.46 178.69 304.02 173.72 308.20 170.10C312.38 166.48 317.09 163.22 322.00 161.00C326.91 158.78 335.07 157.50 337.68 156.80" stroke="#111" stroke-width="0.8" fill="none" />
<path d="M56.69 358.87C57.24 358.19 58.73 356.99 59.98 354.78C61.23 352.58 62.74 348.90 64.20 345.64C65.66 342.37 67.17 338.86 68.75 335.18C70.33 331.51 71.85 327.53 73.68 323.59C75.51 319.64 77.61 315.47 79.71 311.50C81.81 307.53 84.14 303.50 86.28 299.74C88.43 295.98 90.58 291.98 92.59 288.96C94.60 285.94 96.28 283.68 98.34 281.61C100.40 279.54 102.63 277.83 104.92 276.55C107.20 275.27 109.67 274.50 112.04 273.93C114.41 273.36 116.88 273.12 119.16 273.12C121.45 273.12 122.36 273.42 125.74 273.93C129.12 274.45 135.33 276.00 139.44 276.22C143.55 276.44 147.29 275.40 150.40 275.24C153.51 275.08 156.79 275.24 158.07 275.24" stroke="#111" stroke-width="0.8" fill="none" />
<path d="M56.69 358.87C57.79 358.21 60.71 357.15 63.27 354.95C65.83 352.74 69.48 348.93 72.04 345.64C74.59 342.34 76.65 338.86 78.61 335.18C80.58 331.51 81.99 327.94 83.82 323.59C85.64 319.23 87.75 313.38 89.57 309.05C91.40 304.72 93.13 300.88 94.78 297.62C96.42 294.35 97.84 291.63 99.44 289.45C101.03 287.27 101.90 286.02 104.37 284.55C106.83 283.08 110.85 281.61 114.23 280.63C117.61 279.65 120.63 279.19 124.64 278.67C128.66 278.15 134.23 277.34 138.34 277.53C142.45 277.72 145.19 278.86 149.30 279.81C153.41 280.77 158.62 282.37 163.00 283.24C167.39 284.11 173.51 284.74 175.61 285.04" stroke="#111" stroke-width="1.5" fill="none" />
<path d="M55.59 358.87h2.20M56.69 357.77v2.20M55.92 358.10l1.54 1.54M55.92 359.64l1.54 -1.54M60.42 355.99h2.20M61.52 354.89v2.20M60.75 355.22l1.54 1.54M60.75 356.76l1.54 -1.54M64.63 352.33h2.20M65.73 351.23v2.20M64.96 351.56l1.54 1.54M64.96 353.10l1.54 -1.54M68.48 348.24h2.20M69.58 347.14v2.20M68.81 347.47l1.54 1.54M68.81 349.01l1.54 -1.54M72.03 343.90h2.20M73.13 342.80v2.20M72.36 343.13l1.54 1.54M72.36 344.67l1.54 -1.54M75.02 339.14h2.20M76.12 338.04v2.20M75.35 338.37l1.54 1.54M75.35 339.91l1.54 -1.54M77.90 334.32h2.20M79.00 333.22v2.20M78.23 333.55l1.54 1.54M78.23 335.09l1.54 -1.54M80.20 329.19h2.20M81.30 328.09v2.20M80.53 328.42l1.54 1.54M80.53 329.96l1.54 -1.54M82.50 324.06h2.20M83.60 322.96v2.20M82.83 323.29l1.54 1.54M82.83 324.83l1.54 -1.54M84.60 318.84h2.20M85.70 317.74v2.20M84.93 318.07l1.54 1.54M84.93 319.61l1.54 -1.54M86.66 313.62h2.20M87.76 312.52v2.20M86.99 312.85l1.54 1.54M86.99 314.39l1.54 -1.54M88.77 308.40h2.20M89.87 307.30v2.20M89.10 307.63l1.54 1.54M89.10 309.17l1.54 -1.54M91.10 303.28h2.20M92.20 302.18v2.20M91.43 302.51l1.54 1.54M91.43 304.05l1.54 -1.54M93.43 298.17h2.20M94.53 297.07v2.20M93.76 297.40l1.54 1.54M93.76 298.94l1.54 -1.54M96.16 293.26h2.20M97.26 292.16v2.20M96.49 292.49l1.54 1.54M96.49 294.03l1.54 -1.54M99.21 288.58h2.20M100.31 287.48v2.20M99.54 287.81l1.54 1.54M99.54 289.35l1.54 -1.54M103.20 284.61h2.20M104.30 283.51v2.20M103.53 283.84l1.54 1.54M103.53 285.38l1.54 -1.54M108.41 282.51h2.20M109.51 281.41v2.20M108.74 281.74l1.54 1.54M108.74 283.28l1.54 -1.54M113.66 280.53h2.20M114.76 279.43v2.20M113.99 279.76l1.54 1.54M113.99 281.30l1.54 -1.54M119.19 279.49h2.20M120.29 278.39v2.20M119.52 278.72l1.54 1.54M119.52 280.26l1.54 -1.54M124.73 278.57h2.20M125.83 277.47v2.20M125.06 277.80l1.54 1.54M125.06 279.34l1.54 -1.54M130.34 278.10h2.20M131.44 277.00v2.20M130.67 277.33l1.54 1.54M130.67 278.87l1.54 -1.54M135.94 277.64h2.20M137.04 276.54v2.20M136.27 276.87l1.54 1.54M136.27 278.41l1.54 -1.54M141.47 278.41h2.20M142.57 277.31v2.20M141.80 277.64l1.54 1.54M141.80 279.18l1.54 -1.54M146.97 279.56h2.20M148.07 278.46v2.20M147.30 278.79l1.54 1.54M147.30 280.33l1.54 -1.54M152.44 280.87h2.20M153.54 279.77v2.20M152.77 280.10l1.54 1.54M152.77 281.64l1.54 -1.54M157.89 282.24h2.20M158.99 281.14v2.20M158.22 281.47l1.54 1.54M158.22 283.01l1.54 -1.54M163.37 283.45h2.20M164.47 282.35v2.20M163.70 282.68l1.54 1.54M163.70 284.22l1.54 -1.54M168.94 284.25h2.20M170.04 283.15v2.20M169.27 283.48l1.54 1.54M169.27 285.02l1.54 -1.54M174.51 285.04h2.20M175.61 283.94v2.20M174.84 284.27l1.54 1.54M174.84 285.81l1.54 -1.54" stroke="#111" stroke-width="0.75" fill="none"/>
<path d="M55.32 358.82C56.42 358.14 59.34 357.05 61.90 354.78C64.46 352.51 68.11 348.58 70.67 345.19C73.22 341.80 75.28 338.21 77.24 334.42C79.21 330.64 80.62 326.97 82.45 322.48C84.27 317.99 86.38 311.96 88.20 307.51C90.03 303.05 91.76 299.09 93.41 295.73C95.05 292.37 96.47 289.56 98.07 287.32C99.66 285.08 100.21 284.09 103.00 282.27C105.78 280.45 111.45 277.83 114.78 276.38C118.11 274.94 119.89 273.61 123.00 273.61C126.11 273.61 129.03 276.27 133.41 276.38C137.80 276.49 145.10 274.56 149.30 274.26C153.51 273.96 157.07 274.53 158.62 274.59" stroke="#111" stroke-width="0.8" fill="none" />
<path d="M56.14 358.85C57.24 358.19 60.16 357.12 62.72 354.89C65.28 352.66 68.93 348.81 71.49 345.49C74.05 342.16 76.10 338.64 78.06 334.93C80.03 331.22 81.44 327.62 83.27 323.22C85.10 318.82 87.20 312.91 89.02 308.54C90.85 304.16 92.59 300.29 94.23 296.99C95.87 293.69 97.29 290.94 98.89 288.74C100.49 286.54 101.35 285.28 103.82 283.79C106.29 282.31 108.75 280.88 113.68 279.83C118.62 278.79 127.75 278.02 133.41 277.53C139.07 277.03 143.46 276.66 147.66 276.87C151.86 277.09 156.79 278.51 158.62 278.83" stroke="#111" stroke-width="0.8" fill="none" />
<path d="M57.79 358.88C58.88 358.24 61.81 357.19 64.36 355.00C66.92 352.82 70.57 349.05 73.13 345.79C75.69 342.52 77.74 339.07 79.71 335.44C81.67 331.80 83.09 328.27 84.91 323.96C86.74 319.64 88.84 313.85 90.67 309.56C92.49 305.28 94.23 301.48 95.87 298.25C97.52 295.01 98.93 292.32 100.53 290.16C102.13 288.00 103.00 286.76 105.46 285.31C107.93 283.85 110.12 282.37 115.33 281.43C120.53 280.49 131.77 279.73 136.70 279.65C141.63 279.57 141.67 280.17 144.92 280.96C148.17 281.75 152.46 283.43 156.21 284.39C159.95 285.34 165.52 286.29 167.39 286.67" stroke="#111" stroke-width="0.8" fill="none" />
<path d="M58.61 358.90C59.71 358.26 62.63 357.22 65.19 355.06C67.74 352.90 71.40 349.16 73.95 345.93C76.51 342.71 78.57 339.29 80.53 335.69C82.49 332.09 83.91 328.59 85.74 324.32C87.56 320.06 89.66 314.32 91.49 310.08C93.32 305.84 95.05 302.08 96.70 298.87C98.34 295.67 99.76 293.01 101.35 290.87C102.95 288.74 103.82 287.51 106.29 286.07C108.75 284.63 111.54 283.57 116.15 282.23C120.76 280.89 128.71 278.04 133.96 278.02C139.21 278.00 143.09 280.88 147.66 282.10C152.23 283.33 157.52 284.77 161.36 285.37C165.20 285.97 169.12 285.64 170.68 285.69" stroke="#111" stroke-width="0.8" fill="none" />
<path d="M56.69 358.87C58.15 358.38 62.35 357.29 65.46 355.93C68.57 354.57 72.13 353.99 75.32 350.70C78.52 347.41 82.27 340.68 84.64 336.16C87.01 331.64 88.02 327.70 89.57 323.59C91.12 319.48 92.40 315.47 93.96 311.50C95.51 307.53 97.15 303.42 98.89 299.74C100.62 296.06 102.45 292.25 104.37 289.45C106.29 286.65 108.20 284.74 110.40 282.92C112.59 281.09 114.51 279.46 117.52 278.51C120.53 277.55 124.37 277.15 128.48 277.20C132.59 277.25 137.61 278.02 142.18 278.83C146.75 279.65 152.23 281.34 155.88 282.10C159.53 282.86 162.73 283.19 164.10 283.41" stroke="#111" stroke-width="0.8" fill="none" />
<path d="M218.50 360.50C219.42 359.74 222.24 358.92 224.02 355.93C225.80 352.93 227.41 347.98 229.19 342.53C230.98 337.09 232.99 329.88 234.72 323.26C236.44 316.64 237.76 308.75 239.54 302.84C241.33 296.94 243.40 291.95 245.41 287.82C247.42 283.68 249.67 280.11 251.62 278.02C253.57 275.92 255.41 275.59 257.14 275.24C258.87 274.89 260.36 275.38 261.97 275.89C263.58 276.41 264.79 276.90 266.80 278.34C268.81 279.79 270.65 282.97 274.05 284.55C277.44 286.13 282.61 287.14 287.15 287.82C291.70 288.50 296.64 288.36 301.30 288.63C305.96 288.91 310.50 288.91 315.10 289.45C319.70 289.99 324.70 291.08 328.90 291.90C333.10 292.72 338.39 293.94 340.28 294.35" stroke="#111" stroke-width="0.8" fill="none" />
<path d="M218.50 360.50C218.96 360.31 220.34 360.17 221.26 359.36C222.18 358.55 223.10 357.30 224.02 355.66C224.94 354.02 225.86 351.88 226.78 349.52C227.70 347.15 228.62 344.33 229.54 341.44C230.46 338.55 231.38 335.32 232.30 332.16C233.22 329.00 234.14 325.65 235.06 322.48C235.98 319.31 236.90 316.10 237.82 313.14C238.74 310.19 239.66 307.33 240.58 304.75C241.50 302.17 242.42 299.78 243.34 297.66C244.26 295.53 245.18 293.66 246.10 292.01C247.02 290.36 247.94 288.98 248.86 287.76C249.78 286.55 250.70 285.59 251.62 284.74C252.54 283.90 253.46 283.26 254.38 282.70C255.30 282.14 256.22 281.75 257.14 281.40C258.06 281.05 258.98 280.81 259.90 280.60C260.82 280.40 261.74 280.27 262.66 280.15C263.58 280.03 264.50 279.96 265.42 279.90C266.34 279.83 266.23 279.67 268.18 279.77C270.13 279.86 274.10 279.86 277.15 280.47C280.20 281.07 280.77 282.86 286.47 283.41C292.16 283.95 304.06 283.13 311.31 283.73C318.55 284.33 324.42 286.05 329.94 287.00C335.45 287.95 342.01 289.04 344.43 289.45" stroke="#111" stroke-width="0.8" fill="none" />
<path d="M218.50 360.50C218.96 360.34 220.34 360.21 221.26 359.52C222.18 358.84 223.10 357.79 224.02 356.41C224.94 355.03 225.86 353.26 226.78 351.26C227.70 349.27 228.62 346.91 229.54 344.44C230.46 341.98 231.38 339.22 232.30 336.47C233.22 333.72 234.14 330.79 235.06 327.95C235.98 325.12 236.90 322.20 237.82 319.46C238.74 316.72 239.66 314.01 240.58 311.51C241.50 309.00 242.42 306.61 243.34 304.44C244.26 302.27 245.18 300.27 246.10 298.48C247.02 296.69 247.94 295.10 248.86 293.68C249.78 292.27 250.70 291.07 251.62 290.00C252.54 288.94 253.46 288.06 254.38 287.29C255.30 286.53 256.22 285.92 257.14 285.39C258.06 284.86 258.98 284.46 259.90 284.11C260.82 283.76 261.74 283.50 262.66 283.28C263.58 283.06 264.50 282.90 265.42 282.77C266.34 282.63 265.94 282.44 268.18 282.46C270.42 282.49 274.45 282.00 278.88 282.92C283.30 283.84 289.28 286.48 294.75 287.98C300.21 289.48 306.53 290.70 311.65 291.90C316.77 293.10 320.85 293.53 325.45 295.17C330.05 296.80 336.95 300.61 339.25 301.70" stroke="#111" stroke-width="0.8" fill="none" />
<path d="M218.50 360.50C218.96 360.38 220.34 360.31 221.26 359.77C222.18 359.22 223.10 358.39 224.02 357.25C224.94 356.10 225.86 354.61 226.78 352.89C227.70 351.17 228.62 349.11 229.54 346.92C230.46 344.72 231.38 342.24 232.30 339.72C233.22 337.21 234.14 334.48 235.06 331.81C235.98 329.15 236.90 326.37 237.82 323.73C238.74 321.09 239.66 318.43 240.58 315.97C241.50 313.50 242.42 311.10 243.34 308.92C244.26 306.73 245.18 304.69 246.10 302.84C247.02 301.00 247.94 299.34 248.86 297.86C249.78 296.39 250.70 295.10 251.62 293.97C252.54 292.84 253.46 291.90 254.38 291.07C255.30 290.24 256.22 289.58 257.14 289.00C258.06 288.42 258.98 287.98 259.90 287.60C260.82 287.21 261.74 286.93 262.66 286.68C263.58 286.43 264.50 286.26 265.42 286.11C266.34 285.96 265.94 285.79 268.18 285.77C270.42 285.76 275.65 285.27 278.88 286.02C282.10 286.77 283.99 288.85 287.50 290.27C291.01 291.68 296.53 292.12 299.92 294.51C303.31 296.91 304.87 300.69 307.86 304.64C310.85 308.59 314.35 314.74 317.86 318.20C321.37 321.65 325.79 324.02 328.90 325.38C332.00 326.74 333.50 325.11 336.49 326.36C339.48 327.62 345.12 331.81 346.84 332.90" stroke="#111" stroke-width="0.8" fill="none" />
<path d="M218.50 360.50C218.96 360.38 220.34 360.28 221.26 359.76C222.18 359.24 223.10 358.44 224.02 357.38C224.94 356.33 225.86 354.97 226.78 353.41C227.70 351.86 228.62 350.03 229.54 348.07C230.46 346.12 231.38 343.93 232.30 341.69C233.22 339.46 234.14 337.05 235.06 334.67C235.98 332.29 236.90 329.82 237.82 327.43C238.74 325.04 239.66 322.63 240.58 320.35C241.50 318.07 242.42 315.83 243.34 313.75C244.26 311.67 245.18 309.69 246.10 307.87C247.02 306.06 247.94 304.37 248.86 302.84C249.78 301.32 250.70 299.94 251.62 298.70C252.54 297.47 253.46 296.39 254.38 295.43C255.30 294.46 256.22 293.65 257.14 292.92C258.06 292.20 258.58 291.93 259.90 291.08C261.22 290.23 263.35 288.90 265.07 287.82C266.80 286.73 268.52 284.69 270.25 284.55C271.98 284.41 273.41 286.05 275.43 287.00C277.44 287.95 279.11 289.69 282.32 290.27C285.54 290.84 290.20 291.08 294.75 290.43C299.29 289.78 305.04 286.92 309.58 286.35C314.12 285.78 317.34 286.48 322.00 287.00C326.66 287.52 334.94 289.04 337.52 289.45" stroke="#111" stroke-width="0.8" fill="none" />
<path d="M218.50 360.50C218.96 360.41 220.34 360.37 221.26 359.96C222.18 359.55 223.10 358.93 224.02 358.05C224.94 357.17 225.86 356.03 226.78 354.68C227.70 353.33 228.62 351.71 229.54 349.95C230.46 348.20 231.38 346.19 232.30 344.12C233.22 342.05 234.14 339.79 235.06 337.53C235.98 335.28 236.90 332.89 237.82 330.58C238.74 328.26 239.66 325.90 240.58 323.65C241.50 321.40 242.42 319.17 243.34 317.10C244.26 315.02 245.18 313.02 246.10 311.18C247.02 309.35 247.94 307.64 248.86 306.09C249.78 304.53 250.70 303.13 251.62 301.87C252.54 300.62 253.46 299.52 254.38 298.54C255.30 297.56 256.22 296.74 257.14 296.01C258.06 295.27 258.98 294.68 259.90 294.15C260.82 293.63 261.74 293.22 262.66 292.86C263.58 292.50 264.50 292.22 265.42 291.98C266.34 291.74 266.11 291.62 268.18 291.42C270.25 291.21 274.04 290.68 277.84 290.76C281.63 290.84 286.24 290.70 290.95 291.90C295.66 293.10 302.74 295.55 306.13 297.94C309.52 300.34 308.26 302.90 311.31 306.27C314.35 309.65 320.91 315.01 324.41 318.20C327.92 321.38 328.61 323.15 332.35 325.38C336.09 327.62 344.43 330.56 346.84 331.59" stroke="#111" stroke-width="0.8" fill="none" />
<path d="M218.50 360.50C218.96 360.42 220.34 360.38 221.26 360.03C222.18 359.67 223.10 359.14 224.02 358.37C224.94 357.61 225.86 356.62 226.78 355.44C227.70 354.26 228.62 352.85 229.54 351.30C230.46 349.76 231.38 347.99 232.30 346.15C233.22 344.31 234.14 342.29 235.06 340.25C235.98 338.22 236.90 336.05 237.82 333.93C238.74 331.80 239.66 329.61 240.58 327.50C241.50 325.39 242.42 323.28 243.34 321.28C244.26 319.29 245.18 317.34 246.10 315.52C247.02 313.71 247.94 311.99 248.86 310.41C249.78 308.82 250.70 307.36 251.62 306.03C252.54 304.70 253.46 303.51 254.38 302.44C255.30 301.36 256.22 300.42 257.14 299.59C258.06 298.75 258.98 298.04 259.90 297.41C260.82 296.78 260.94 296.59 262.66 295.80C264.39 295.02 267.55 293.64 270.25 292.72C272.95 291.79 276.00 290.13 278.88 290.27C281.75 290.40 284.91 292.85 287.50 293.53C290.09 294.21 290.38 294.08 294.40 294.35C298.42 294.62 306.47 294.21 311.65 295.17C316.82 296.12 320.04 297.67 325.45 300.07C330.86 302.46 340.97 307.96 344.08 309.54" stroke="#111" stroke-width="0.8" fill="none" />
<path d="M218.50 360.50C218.96 360.44 220.34 360.43 221.26 360.14C222.18 359.85 223.10 359.43 224.02 358.78C224.94 358.14 225.86 357.30 226.78 356.28C227.70 355.25 228.62 354.02 229.54 352.64C230.46 351.26 231.38 349.67 232.30 347.98C233.22 346.30 234.14 344.44 235.06 342.53C235.98 340.63 236.90 338.59 237.82 336.56C238.74 334.54 239.66 332.43 240.58 330.38C241.50 328.33 242.42 326.26 243.34 324.29C244.26 322.32 245.18 320.37 246.10 318.55C247.02 316.73 247.94 314.98 248.86 313.37C249.78 311.76 250.70 310.26 251.62 308.89C252.54 307.52 253.46 306.27 254.38 305.15C255.30 304.03 256.22 303.05 257.14 302.16C258.06 301.28 258.98 300.53 259.90 299.86C260.82 299.19 261.74 298.64 262.66 298.15C263.58 297.66 264.50 297.27 265.42 296.93C266.34 296.59 267.26 296.32 268.18 296.09C269.10 295.86 270.02 295.68 270.94 295.53C271.86 295.38 271.11 295.10 273.70 295.18C276.29 295.25 281.58 295.66 286.47 295.98C291.35 296.31 297.10 296.85 303.02 297.13C308.95 297.40 315.39 297.13 322.00 297.62C328.61 298.11 339.25 299.66 342.70 300.07" stroke="#111" stroke-width="0.8" fill="none" />
<path d="M218.50 360.50C218.96 360.47 220.34 360.49 221.26 360.33C222.18 360.17 223.10 359.95 224.02 359.53C224.94 359.12 225.86 358.58 226.78 357.84C227.70 357.11 228.62 356.20 229.54 355.12C230.46 354.04 231.38 352.76 232.30 351.34C233.22 349.92 234.14 348.31 235.06 346.60C235.98 344.90 236.90 343.02 237.82 341.10C238.74 339.18 239.66 337.13 240.58 335.10C241.50 333.07 242.42 330.96 243.34 328.94C244.26 326.91 245.18 324.85 246.10 322.92C247.02 320.99 247.94 319.10 248.86 317.36C249.78 315.61 250.70 313.96 251.62 312.45C252.54 310.95 253.46 309.58 254.38 308.34C255.30 307.11 256.22 306.02 257.14 305.06C258.06 304.10 258.98 303.29 259.90 302.57C260.82 301.86 261.74 301.28 262.66 300.77C263.58 300.27 264.50 299.88 265.42 299.54C266.34 299.20 267.26 298.95 268.18 298.73C269.10 298.52 270.02 298.37 270.94 298.23C271.86 298.10 271.11 297.80 273.70 297.94C276.29 298.08 281.58 298.51 286.47 299.09C291.35 299.66 297.10 300.94 303.02 301.37C308.95 301.81 315.96 301.37 322.00 301.70C328.04 302.03 336.38 303.06 339.25 303.33" stroke="#111" stroke-width="0.8" fill="none" />
<path d="M218.50 360.50C218.96 360.35 220.34 360.23 221.26 359.59C222.18 358.94 223.10 357.95 224.02 356.64C224.94 355.34 225.86 353.66 226.78 351.76C227.70 349.87 228.62 347.62 229.54 345.28C230.46 342.93 231.38 340.31 232.30 337.69C233.22 335.07 234.14 332.27 235.06 329.57C235.98 326.87 236.90 324.10 237.82 321.49C238.74 318.88 239.66 316.29 240.58 313.91C241.50 311.53 242.42 309.25 243.34 307.19C244.26 305.13 245.18 303.23 246.10 301.53C247.02 299.83 247.94 298.33 248.86 297.00C249.78 295.66 250.70 294.52 251.62 293.52C252.54 292.52 253.46 291.70 254.38 290.98C255.30 290.26 256.22 289.70 257.14 289.20C258.06 288.71 258.98 288.34 259.90 288.01C260.82 287.69 261.74 287.46 262.66 287.25C263.58 287.05 264.50 286.91 265.42 286.78C266.34 286.66 266.23 286.53 268.18 286.51C270.13 286.49 273.93 286.46 277.15 286.67C280.37 286.89 282.32 287.49 287.50 287.82C292.68 288.14 302.45 287.68 308.20 288.63C313.95 289.59 316.65 290.67 322.00 293.53C327.35 296.39 337.24 303.74 340.28 305.78" stroke="#111" stroke-width="0.8" fill="none" />
<path d="M218.50 360.50C219.36 359.79 222.06 357.89 223.68 356.25C225.29 354.62 226.66 352.99 228.16 350.70C229.66 348.41 230.40 347.79 232.65 342.53C234.89 337.28 239.03 326.25 241.62 319.18C244.20 312.10 246.56 304.61 248.17 300.07C249.78 295.52 250.12 294.49 251.28 291.90C252.43 289.31 253.63 286.59 255.07 284.55C256.51 282.51 258.23 280.82 259.90 279.65C261.57 278.48 263.41 277.93 265.07 277.53C266.74 277.12 268.30 277.31 269.91 277.20C271.52 277.09 271.98 276.60 274.74 276.87C277.50 277.15 282.56 278.34 286.47 278.83C290.38 279.32 294.06 279.46 298.19 279.81C302.33 280.17 308.55 280.41 311.31 280.96C314.06 281.50 313.66 281.91 314.75 283.08C315.85 284.25 315.33 286.35 317.86 287.98C320.39 289.61 326.20 291.41 329.94 292.88C333.67 294.35 337.24 295.52 340.28 296.80C343.33 298.08 346.90 299.93 348.22 300.56" stroke="#111" stroke-width="1.5" fill="none" />
<path d="M217.00 360.50h3.00M218.50 359.00v3.00M217.45 359.45l2.10 2.10M217.45 361.55l2.10 -2.10M220.36 357.74h3.00M221.86 356.24v3.00M220.81 356.69l2.10 2.10M220.81 358.79l2.10 -2.10M223.44 354.69h3.00M224.94 353.19v3.00M223.89 353.64l2.10 2.10M223.89 355.74l2.10 -2.10M226.17 351.31h3.00M227.67 349.81v3.00M226.62 350.26l2.10 2.10M226.62 352.36l2.10 -2.10M228.38 347.57h3.00M229.88 346.07v3.00M228.83 346.52l2.10 2.10M228.83 348.62l2.10 -2.10M230.47 343.76h3.00M231.97 342.26v3.00M230.92 342.71l2.10 2.10M230.92 344.81l2.10 -2.10M232.20 339.77h3.00M233.70 338.27v3.00M232.65 338.72l2.10 2.10M232.65 340.82l2.10 -2.10M233.76 335.71h3.00M235.26 334.21v3.00M234.21 334.66l2.10 2.10M234.21 336.76l2.10 -2.10M235.32 331.65h3.00M236.82 330.15v3.00M235.77 330.60l2.10 2.10M235.77 332.70l2.10 -2.10M236.88 327.59h3.00M238.38 326.09v3.00M237.33 326.54l2.10 2.10M237.33 328.64l2.10 -2.10M238.44 323.53h3.00M239.94 322.03v3.00M238.89 322.48l2.10 2.10M238.89 324.58l2.10 -2.10M240.00 319.47h3.00M241.50 317.97v3.00M240.45 318.42l2.10 2.10M240.45 320.52l2.10 -2.10M241.43 315.35h3.00M242.93 313.85v3.00M241.88 314.30l2.10 2.10M241.88 316.40l2.10 -2.10M242.84 311.24h3.00M244.34 309.74v3.00M243.29 310.19l2.10 2.10M243.29 312.29l2.10 -2.10M244.25 307.12h3.00M245.75 305.62v3.00M244.70 306.07l2.10 2.10M244.70 308.17l2.10 -2.10M245.66 303.01h3.00M247.16 301.51v3.00M246.11 301.96l2.10 2.10M246.11 304.06l2.10 -2.10M247.11 298.91h3.00M248.61 297.41v3.00M247.56 297.86l2.10 2.10M247.56 299.96l2.10 -2.10M248.66 294.84h3.00M250.16 293.34v3.00M249.11 293.79l2.10 2.10M249.11 295.89l2.10 -2.10M250.33 290.83h3.00M251.83 289.33v3.00M250.78 289.78l2.10 2.10M250.78 291.88l2.10 -2.10M252.33 286.96h3.00M253.83 285.46v3.00M252.78 285.91l2.10 2.10M252.78 288.01l2.10 -2.10M254.72 283.38h3.00M256.22 281.88v3.00M255.17 282.33l2.10 2.10M255.17 284.43l2.10 -2.10M257.77 280.29h3.00M259.27 278.79v3.00M258.22 279.24l2.10 2.10M258.22 281.34l2.10 -2.10M261.60 278.34h3.00M263.10 276.84v3.00M262.05 277.29l2.10 2.10M262.05 279.39l2.10 -2.10M265.79 277.38h3.00M267.29 275.88v3.00M266.24 276.33l2.10 2.10M266.24 278.43l2.10 -2.10M270.13 277.08h3.00M271.63 275.58v3.00M270.58 276.03l2.10 2.10M270.58 278.13l2.10 -2.10M274.45 277.08h3.00M275.95 275.58v3.00M274.90 276.03l2.10 2.10M274.90 278.13l2.10 -2.10M278.75 277.79h3.00M280.25 276.29v3.00M279.20 276.74l2.10 2.10M279.20 278.84l2.10 -2.10M283.04 278.51h3.00M284.54 277.01v3.00M283.49 277.46l2.10 2.10M283.49 279.56l2.10 -2.10M287.35 279.03h3.00M288.85 277.53v3.00M287.80 277.98l2.10 2.10M287.80 280.08l2.10 -2.10M291.69 279.40h3.00M293.19 277.90v3.00M292.14 278.35l2.10 2.10M292.14 280.45l2.10 -2.10M296.02 279.76h3.00M297.52 278.26v3.00M296.47 278.71l2.10 2.10M296.47 280.81l2.10 -2.10M300.36 280.13h3.00M301.86 278.63v3.00M300.81 279.08l2.10 2.10M300.81 281.18l2.10 -2.10M304.69 280.51h3.00M306.19 279.01v3.00M305.14 279.46l2.10 2.10M305.14 281.56l2.10 -2.10M309.03 280.89h3.00M310.53 279.39v3.00M309.48 279.84l2.10 2.10M309.48 281.94l2.10 -2.10M312.85 282.83h3.00M314.35 281.33v3.00M313.30 281.78l2.10 2.10M313.30 283.88l2.10 -2.10M315.33 286.35h3.00M316.83 284.85v3.00M315.78 285.30l2.10 2.10M315.78 287.40l2.10 -2.10M318.60 288.89h3.00M320.10 287.39v3.00M319.05 287.84l2.10 2.10M319.05 289.94l2.10 -2.10M322.64 290.53h3.00M324.14 289.03v3.00M323.09 289.48l2.10 2.10M323.09 291.58l2.10 -2.10M326.67 292.16h3.00M328.17 290.66v3.00M327.12 291.11l2.10 2.10M327.12 293.21l2.10 -2.10M330.72 293.75h3.00M332.22 292.25v3.00M331.17 292.70l2.10 2.10M331.17 294.80l2.10 -2.10M334.79 295.29h3.00M336.29 293.79v3.00M335.24 294.24l2.10 2.10M335.24 296.34l2.10 -2.10M338.85 296.83h3.00M340.35 295.33v3.00M339.30 295.78l2.10 2.10M339.30 297.88l2.10 -2.10M342.79 298.69h3.00M344.29 297.19v3.00M343.24 297.64l2.10 2.10M343.24 299.74l2.10 -2.10M346.72 300.56h3.00M348.22 299.06v3.00M347.17 299.51l2.10 2.10M347.17 301.61l2.10 -2.10" stroke="#111" stroke-width="0.85" fill="none"/>
<rect x="53.5" y="6.5" width="137.5" height="98.0" fill="none" stroke="#6e6e6e" stroke-width="1"/>
<path d="M53.50 104.5v-1.6M53.50 6.5v1.6M84.75 104.5v-1.6M84.75 6.5v1.6M116.00 104.5v-1.6M116.00 6.5v1.6M147.25 104.5v-1.6M147.25 6.5v1.6M178.50 104.5v-1.6M178.50 6.5v1.6M53.5 104.50h1.6M191 104.50h-1.6M53.5 80.00h1.6M191 80.00h-1.6M53.5 55.50h1.6M191 55.50h-1.6M53.5 31.00h1.6M191 31.00h-1.6M53.5 6.50h1.6M191 6.50h-1.6" stroke="#6e6e6e" stroke-width="0.8" fill="none"/>
<text transform="translate(53.50,113.00) scale(0.85,1)" class="tk" text-anchor="middle">0</text>
<text transform="translate(84.75,113.00) scale(0.85,1)" class="tk" text-anchor="middle">5</text>
<text transform="translate(116.00,113.00) scale(0.85,1)" class="tk" text-anchor="middle">10</text>
<text transform="translate(147.25,113.00) scale(0.85,1)" class="tk" text-anchor="middle">15</text>
<text transform="translate(178.50,113.00) scale(0.85,1)" class="tk" text-anchor="middle">20</text>
<text transform="translate(50.60,107.00) scale(0.85,1)" class="tk" text-anchor="end">0</text>
<text transform="translate(50.60,82.50) scale(0.85,1)" class="tk" text-anchor="end">10</text>
<text transform="translate(50.60,58.00) scale(0.85,1)" class="tk" text-anchor="end">20</text>
<text transform="translate(50.60,33.50) scale(0.85,1)" class="tk" text-anchor="end">30</text>
<text transform="translate(50.60,9.00) scale(0.85,1)" class="tk" text-anchor="end">40</text>
<text x="122.25" y="124.10" class="al" text-anchor="middle" textLength="38" lengthAdjust="spacingAndGlyphs">Strain [%]</text>
<text transform="translate(39.40,55.00) rotate(-90)" class="al" text-anchor="middle" textLength="50" lengthAdjust="spacingAndGlyphs">Stress [MPa]</text>
<rect x="218.5" y="6.5" width="137.0" height="98.0" fill="none" stroke="#6e6e6e" stroke-width="1"/>
<path d="M218.50 104.5v-1.6M218.50 6.5v1.6M243.87 104.5v-1.6M243.87 6.5v1.6M269.24 104.5v-1.6M269.24 6.5v1.6M294.61 104.5v-1.6M294.61 6.5v1.6M319.98 104.5v-1.6M319.98 6.5v1.6M345.35 104.5v-1.6M345.35 6.5v1.6M218.5 104.50h1.6M355.5 104.50h-1.6M218.5 84.90h1.6M355.5 84.90h-1.6M218.5 65.30h1.6M355.5 65.30h-1.6M218.5 45.70h1.6M355.5 45.70h-1.6M218.5 26.10h1.6M355.5 26.10h-1.6M218.5 6.50h1.6M355.5 6.50h-1.6" stroke="#6e6e6e" stroke-width="0.8" fill="none"/>
<text transform="translate(218.50,113.00) scale(0.85,1)" class="tk" text-anchor="middle">0</text>
<text transform="translate(243.87,113.00) scale(0.85,1)" class="tk" text-anchor="middle">5</text>
<text transform="translate(269.24,113.00) scale(0.85,1)" class="tk" text-anchor="middle">10</text>
<text transform="translate(294.61,113.00) scale(0.85,1)" class="tk" text-anchor="middle">15</text>
<text transform="translate(319.98,113.00) scale(0.85,1)" class="tk" text-anchor="middle">20</text>
<text transform="translate(345.35,113.00) scale(0.85,1)" class="tk" text-anchor="middle">25</text>
<text transform="translate(215.60,107.00) scale(0.85,1)" class="tk" text-anchor="end">0</text>
<text transform="translate(215.60,87.40) scale(0.85,1)" class="tk" text-anchor="end">10</text>
<text transform="translate(215.60,67.80) scale(0.85,1)" class="tk" text-anchor="end">20</text>
<text transform="translate(215.60,48.20) scale(0.85,1)" class="tk" text-anchor="end">30</text>
<text transform="translate(215.60,28.60) scale(0.85,1)" class="tk" text-anchor="end">40</text>
<text transform="translate(215.60,9.00) scale(0.85,1)" class="tk" text-anchor="end">50</text>
<text x="287.00" y="124.10" class="al" text-anchor="middle" textLength="38" lengthAdjust="spacingAndGlyphs">Strain [%]</text>
<text transform="translate(204.40,55.00) rotate(-90)" class="al" text-anchor="middle" textLength="50" lengthAdjust="spacingAndGlyphs">Stress [MPa]</text>
<rect x="53.5" y="136.5" width="138.0" height="98.0" fill="none" stroke="#6e6e6e" stroke-width="1"/>
<path d="M53.50 234.5v-1.6M53.50 136.5v1.6M76.50 234.5v-1.6M76.50 136.5v1.6M99.50 234.5v-1.6M99.50 136.5v1.6M122.50 234.5v-1.6M122.50 136.5v1.6M145.50 234.5v-1.6M145.50 136.5v1.6M168.50 234.5v-1.6M168.50 136.5v1.6M191.50 234.5v-1.6M191.50 136.5v1.6M53.5 234.50h1.6M191.5 234.50h-1.6M53.5 210.00h1.6M191.5 210.00h-1.6M53.5 185.50h1.6M191.5 185.50h-1.6M53.5 161.00h1.6M191.5 161.00h-1.6M53.5 136.50h1.6M191.5 136.50h-1.6" stroke="#6e6e6e" stroke-width="0.8" fill="none"/>
<text transform="translate(53.50,243.00) scale(0.85,1)" class="tk" text-anchor="middle">0</text>
<text transform="translate(76.50,243.00) scale(0.85,1)" class="tk" text-anchor="middle">2</text>
<text transform="translate(99.50,243.00) scale(0.85,1)" class="tk" text-anchor="middle">4</text>
<text transform="translate(122.50,243.00) scale(0.85,1)" class="tk" text-anchor="middle">6</text>
<text transform="translate(145.50,243.00) scale(0.85,1)" class="tk" text-anchor="middle">8</text>
<text transform="translate(168.50,243.00) scale(0.85,1)" class="tk" text-anchor="middle">10</text>
<text transform="translate(191.50,243.00) scale(0.85,1)" class="tk" text-anchor="middle">12</text>
<text transform="translate(50.60,237.00) scale(0.85,1)" class="tk" text-anchor="end">0</text>
<text transform="translate(50.60,212.50) scale(0.85,1)" class="tk" text-anchor="end">20</text>
<text transform="translate(50.60,188.00) scale(0.85,1)" class="tk" text-anchor="end">40</text>
<text transform="translate(50.60,163.50) scale(0.85,1)" class="tk" text-anchor="end">60</text>
<text transform="translate(50.60,139.00) scale(0.85,1)" class="tk" text-anchor="end">80</text>
<text x="122.50" y="254.10" class="al" text-anchor="middle" textLength="38" lengthAdjust="spacingAndGlyphs">Strain [%]</text>
<text transform="translate(39.40,185.00) rotate(-90)" class="al" text-anchor="middle" textLength="50" lengthAdjust="spacingAndGlyphs">Stress [MPa]</text>
<rect x="218.5" y="136.5" width="138.0" height="98.0" fill="none" stroke="#6e6e6e" stroke-width="1"/>
<path d="M218.50 234.5v-1.6M218.50 136.5v1.6M249.86 234.5v-1.6M249.86 136.5v1.6M281.23 234.5v-1.6M281.23 136.5v1.6M312.59 234.5v-1.6M312.59 136.5v1.6M343.95 234.5v-1.6M343.95 136.5v1.6M218.5 234.50h1.6M356.5 234.50h-1.6M218.5 220.50h1.6M356.5 220.50h-1.6M218.5 206.50h1.6M356.5 206.50h-1.6M218.5 192.50h1.6M356.5 192.50h-1.6M218.5 178.50h1.6M356.5 178.50h-1.6M218.5 164.50h1.6M356.5 164.50h-1.6M218.5 150.50h1.6M356.5 150.50h-1.6M218.5 136.50h1.6M356.5 136.50h-1.6" stroke="#6e6e6e" stroke-width="0.8" fill="none"/>
<text transform="translate(218.50,243.00) scale(0.85,1)" class="tk" text-anchor="middle">0</text>
<text transform="translate(249.86,243.00) scale(0.85,1)" class="tk" text-anchor="middle">5</text>
<text transform="translate(281.23,243.00) scale(0.85,1)" class="tk" text-anchor="middle">10</text>
<text transform="translate(312.59,243.00) scale(0.85,1)" class="tk" text-anchor="middle">15</text>
<text transform="translate(343.95,243.00) scale(0.85,1)" class="tk" text-anchor="middle">20</text>
<text transform="translate(215.60,237.00) scale(0.85,1)" class="tk" text-anchor="end">0</text>
<text transform="translate(215.60,223.00) scale(0.85,1)" class="tk" text-anchor="end">10</text>
<text transform="translate(215.60,209.00) scale(0.85,1)" class="tk" text-anchor="end">20</text>
<text transform="translate(215.60,195.00) scale(0.85,1)" class="tk" text-anchor="end">30</text>
<text transform="translate(215.60,181.00) scale(0.85,1)" class="tk" text-anchor="end">40</text>
<text transform="translate(215.60,167.00) scale(0.85,1)" class="tk" text-anchor="end">50</text>
<text transform="translate(215.60,153.00) scale(0.85,1)" class="tk" text-anchor="end">60</text>
<text transform="translate(215.60,139.00) scale(0.85,1)" class="tk" text-anchor="end">70</text>
<text x="287.50" y="254.10" class="al" text-anchor="middle" textLength="38" lengthAdjust="spacingAndGlyphs">Strain [%]</text>
<text transform="translate(204.40,185.00) rotate(-90)" class="al" text-anchor="middle" textLength="50" lengthAdjust="spacingAndGlyphs">Stress [MPa]</text>
<rect x="54.5" y="262.5" width="137.0" height="98.0" fill="none" stroke="#6e6e6e" stroke-width="1"/>
<path d="M54.50 360.5v-1.6M54.50 262.5v1.6M81.90 360.5v-1.6M81.90 262.5v1.6M109.30 360.5v-1.6M109.30 262.5v1.6M136.70 360.5v-1.6M136.70 262.5v1.6M164.10 360.5v-1.6M164.10 262.5v1.6M191.50 360.5v-1.6M191.50 262.5v1.6M54.5 360.50h1.6M191.5 360.50h-1.6M54.5 344.17h1.6M191.5 344.17h-1.6M54.5 327.83h1.6M191.5 327.83h-1.6M54.5 311.50h1.6M191.5 311.50h-1.6M54.5 295.17h1.6M191.5 295.17h-1.6M54.5 278.83h1.6M191.5 278.83h-1.6M54.5 262.50h1.6M191.5 262.50h-1.6" stroke="#6e6e6e" stroke-width="0.8" fill="none"/>
<text transform="translate(54.50,369.00) scale(0.85,1)" class="tk" text-anchor="middle">0</text>
<text transform="translate(81.90,369.00) scale(0.85,1)" class="tk" text-anchor="middle">5</text>
<text transform="translate(109.30,369.00) scale(0.85,1)" class="tk" text-anchor="middle">10</text>
<text transform="translate(136.70,369.00) scale(0.85,1)" class="tk" text-anchor="middle">15</text>
<text transform="translate(164.10,369.00) scale(0.85,1)" class="tk" text-anchor="middle">20</text>
<text transform="translate(191.50,369.00) scale(0.85,1)" class="tk" text-anchor="middle">25</text>
<text transform="translate(51.60,363.00) scale(0.85,1)" class="tk" text-anchor="end">0</text>
<text transform="translate(51.60,346.67) scale(0.85,1)" class="tk" text-anchor="end">10</text>
<text transform="translate(51.60,330.33) scale(0.85,1)" class="tk" text-anchor="end">20</text>
<text transform="translate(51.60,314.00) scale(0.85,1)" class="tk" text-anchor="end">30</text>
<text transform="translate(51.60,297.67) scale(0.85,1)" class="tk" text-anchor="end">40</text>
<text transform="translate(51.60,281.33) scale(0.85,1)" class="tk" text-anchor="end">50</text>
<text transform="translate(51.60,265.00) scale(0.85,1)" class="tk" text-anchor="end">60</text>
<text x="123.00" y="380.10" class="al" text-anchor="middle" textLength="38" lengthAdjust="spacingAndGlyphs">Strain [%]</text>
<text transform="translate(40.40,311.00) rotate(-90)" class="al" text-anchor="middle" textLength="50" lengthAdjust="spacingAndGlyphs">Stress [MPa]</text>
<rect x="218.5" y="262.5" width="138.0" height="98.0" fill="none" stroke="#6e6e6e" stroke-width="1"/>
<path d="M218.50 360.5v-1.6M218.50 262.5v1.6M253.00 360.5v-1.6M253.00 262.5v1.6M287.50 360.5v-1.6M287.50 262.5v1.6M322.00 360.5v-1.6M322.00 262.5v1.6M356.50 360.5v-1.6M356.50 262.5v1.6M218.5 360.50h1.6M356.5 360.50h-1.6M218.5 344.17h1.6M356.5 344.17h-1.6M218.5 327.83h1.6M356.5 327.83h-1.6M218.5 311.50h1.6M356.5 311.50h-1.6M218.5 295.17h1.6M356.5 295.17h-1.6M218.5 278.83h1.6M356.5 278.83h-1.6M218.5 262.50h1.6M356.5 262.50h-1.6" stroke="#6e6e6e" stroke-width="0.8" fill="none"/>
<text transform="translate(218.50,369.00) scale(0.85,1)" class="tk" text-anchor="middle">0</text>
<text transform="translate(253.00,369.00) scale(0.85,1)" class="tk" text-anchor="middle">10</text>
<text transform="translate(287.50,369.00) scale(0.85,1)" class="tk" text-anchor="middle">20</text>
<text transform="translate(322.00,369.00) scale(0.85,1)" class="tk" text-anchor="middle">30</text>
<text transform="translate(356.50,369.00) scale(0.85,1)" class="tk" text-anchor="middle">40</text>
<text transform="translate(215.60,363.00) scale(0.85,1)" class="tk" text-anchor="end">0</text>
<text transform="translate(215.60,346.67) scale(0.85,1)" class="tk" text-anchor="end">10</text>
<text transform="translate(215.60,330.33) scale(0.85,1)" class="tk" text-anchor="end">20</text>
<text transform="translate(215.60,314.00) scale(0.85,1)" class="tk" text-anchor="end">30</text>
<text transform="translate(215.60,297.67) scale(0.85,1)" class="tk" text-anchor="end">40</text>
<text transform="translate(215.60,281.33) scale(0.85,1)" class="tk" text-anchor="end">50</text>
<text transform="translate(215.60,265.00) scale(0.85,1)" class="tk" text-anchor="end">60</text>
<text x="287.50" y="380.10" class="al" text-anchor="middle" textLength="38" lengthAdjust="spacingAndGlyphs">Strain [%]</text>
<text transform="translate(204.40,311.00) rotate(-90)" class="al" text-anchor="middle" textLength="50" lengthAdjust="spacingAndGlyphs">Stress [MPa]</text>
</svg>
</body></html>
